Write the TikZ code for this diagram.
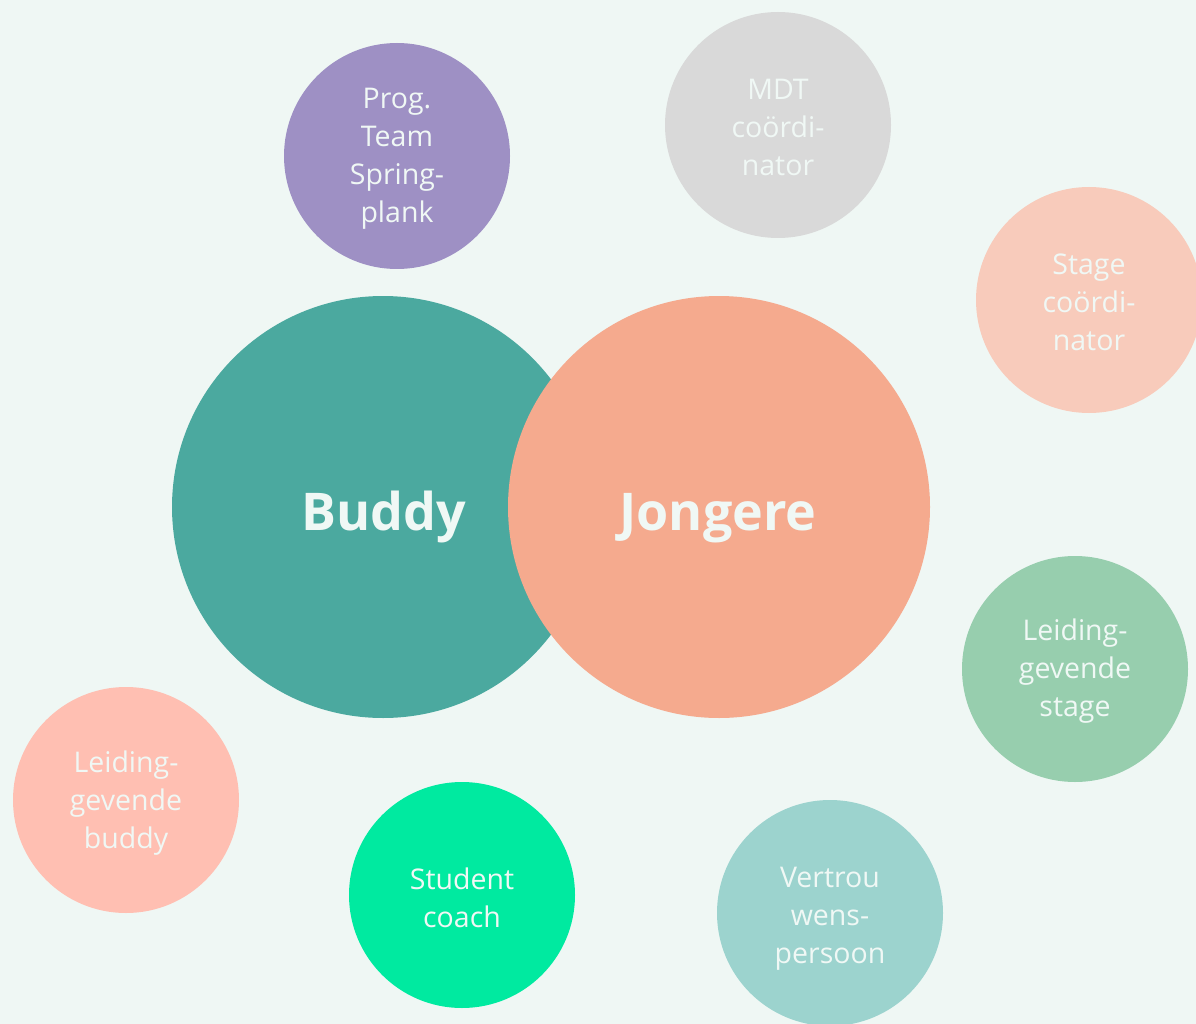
\documentclass[tikz,border=0pt]{standalone}
\usepackage{fontspec}
\setmainfont{Open Sans}
\definecolor{bg}{HTML}{EFF7F4}
\definecolor{txt}{HTML}{F0F8F5}
\definecolor{cbuddy}{HTML}{4BA99F}
\definecolor{cjong}{HTML}{F5AA8E}
\definecolor{cprog}{HTML}{9E90C4}
\definecolor{cmdt}{HTML}{D9D9D9}
\definecolor{cstage}{HTML}{F8CBBB}
\definecolor{clstage}{HTML}{97CEAE}
\definecolor{cvert}{HTML}{9CD3CE}
\definecolor{cstud}{HTML}{00EAA0}
\definecolor{clbuddy}{HTML}{FFBFB2}
\begin{document}
\begin{tikzpicture}[x=1pt,y=-1pt,
  big/.style={circle,inner sep=0pt,minimum size=422pt},
  bigtext/.style={anchor=base,inner sep=0pt,text=txt,font=\fontsize{52}{60}\selectfont\bfseries},
  small/.style={circle,inner sep=0pt,minimum size=226pt},
  smalltext/.style={inner sep=0pt,text=txt,align=center,font=\fontsize{28.5}{38}\selectfont}]
\fill[bg] (0,0) rectangle (1196,1024);
\useasboundingbox (0,0) rectangle (1196,1024);
\clip (0,0) rectangle (1196,1024);
\node[big,fill=cbuddy] (buddy) at (383,507) {};
\node[big,fill=cjong] (jong) at (719,507) {};
\node[bigtext] (buddyt) at (384,530) {Buddy};
\node[bigtext] (jongt) at (718,530) {Jongere};
\node[small,fill=cprog] (prog) at (397,156) {};
\node[small,fill=cmdt] (mdt) at (778,125) {};
\node[small,fill=cstage] (stage) at (1089,300) {};
\node[small,fill=clstage] (lstage) at (1075,669) {};
\node[small,fill=cvert] (vert) at (830,913) {};
\node[small,fill=cstud] (stud) at (462,895) {};
\node[small,fill=clbuddy] (lbuddy) at (126,800) {};
\node[smalltext] (progt) at (397,159) {Prog.\\Team\\Spring-\\plank};
\node[smalltext] (mdtt) at (778,127) {MDT\\coördi-\\nator};
\node[smalltext] (staget) at (1089,302) {Stage\\coördi-\\nator};
\node[smalltext] (lstaget) at (1075,671) {Leiding-\\gevende\\stage};
\node[smalltext] (vertt) at (830,919) {Vertrou\\wens-\\persoon};
\node[smalltext] (studt) at (462,898) {Student\\coach};
\node[smalltext] (lbuddyt) at (126,803) {Leiding-\\gevende\\buddy};
\end{tikzpicture}
\end{document}
